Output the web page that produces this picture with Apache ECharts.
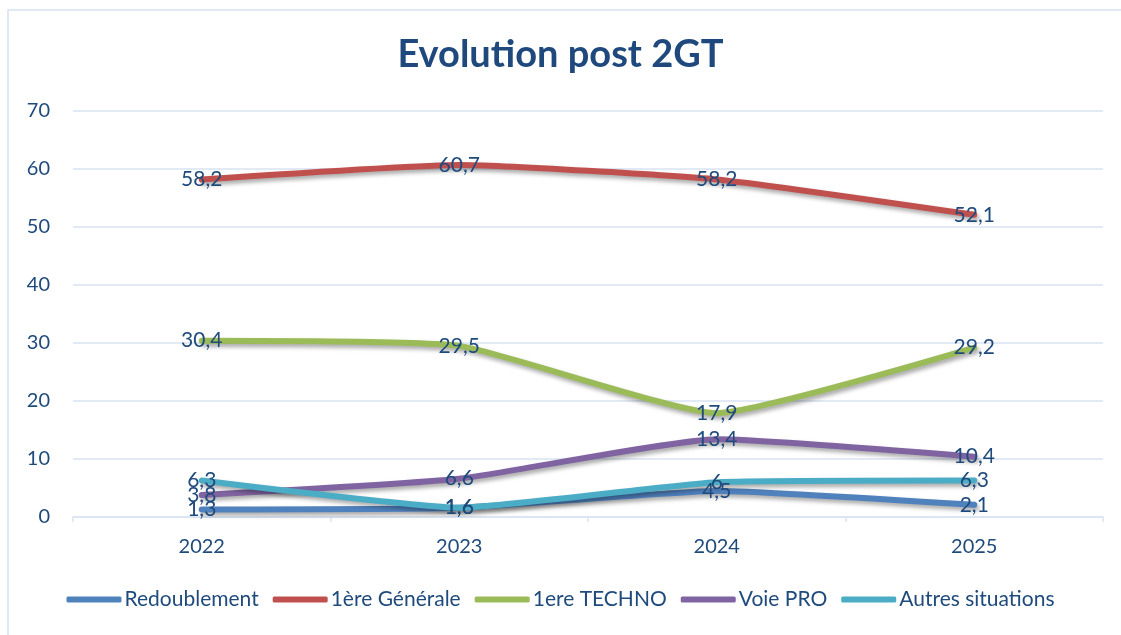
<!DOCTYPE html>
<html>
<head>
<meta charset="utf-8">
<script src="https://cdn.jsdelivr.net/npm/echarts@6/dist/echarts.min.js"></script>
<style>
  html, body { margin: 0; padding: 0; background: #fff; }
  #main { width: 1121px; height: 635px; }
</style>
</head>
<body>
<div id="main"></div>
<script>
// années
const years = ['2022', '2023', '2024', '2025'];

// valeurs (%)
const redoublement = [1.3, 1.6, 4.5, 2.1];
const generale = [58.2, 60.7, 58.2, 52.1];
const techno = [30.4, 29.5, 17.9, 29.2];
const voiePro = [3.8, 6.6, 13.4, 10.4];
const autres = [6.3, 1.6, 6, 6.3];

const textColor = '#1f4a7c';
const gridColor = '#d9e3f3';

function makeSeries(name, data, color) {
  return {
    name: name,
    type: 'line',
    data: data,
    smooth: 0.15,
    symbol: 'circle',
    symbolSize: 0.1,
    showSymbol: true,
    lineStyle: {
      color: color,
      width: 6,
      cap: 'round',
      shadowColor: 'rgba(0,0,0,0.35)',
      shadowBlur: 4,
      shadowOffsetX: 2,
      shadowOffsetY: 3
    },
    itemStyle: { color: color },
    label: {
      show: true,
      position: 'inside',
      color: textColor,
      fontSize: 21,
      fontFamily: 'Lato',
      formatter: function (p) {
        return String(p.value).replace('.', ',');
      }
    },
    labelLayout: { hideOverlap: false }
  };
}

const chart = echarts.init(document.getElementById('main'));
chart.setOption({
  animation: false,
  graphic: [{
    type: 'rect',
    shape: { x: 8, y: 10, width: 1140, height: 650 },
    style: { fill: 'none', stroke: '#d6e1f1', lineWidth: 1.5 },
    z: -1
  }],
  title: {
    text: 'Evolution post 2GT',
    left: 'center',
    top: 31,
    textStyle: {
      color: '#1f497d',
      fontSize: 38,
      fontWeight: 'bold',
      fontFamily: 'Lato'
    }
  },
  legend: {
    bottom: 20,
    left: 'center',
    icon: 'roundRect',
    itemWidth: 55,
    itemHeight: 6,
    itemGap: 14,
    textStyle: {
      color: textColor,
      fontSize: 21,
      fontFamily: 'Lato',
      padding: [0, 0, 0, -2]
    }
  },
  grid: {
    left: 73,
    right: 18,
    top: 111,
    bottom: 118
  },
  xAxis: {
    type: 'category',
    data: years,
    boundaryGap: true,
    axisLine: { lineStyle: { color: gridColor, width: 1.5 } },
    axisTick: { show: true, length: 5, lineStyle: { color: gridColor, width: 1.5 } },
    axisLabel: {
      color: textColor,
      fontSize: 20,
      fontFamily: 'Lato',
      margin: 20
    }
  },
  yAxis: {
    type: 'value',
    min: 0,
    max: 70,
    interval: 10,
    axisLine: { show: false },
    axisTick: { show: false },
    splitLine: { lineStyle: { color: gridColor, width: 1.5 } },
    axisLabel: {
      color: textColor,
      fontSize: 20,
      fontFamily: 'Lato',
      margin: 23
    }
  },
  series: [
    makeSeries('Redoublement', redoublement, '#4f81bd'),
    makeSeries('1ère Générale', generale, '#c0504d'),
    makeSeries('1ere TECHNO', techno, '#9bbb59'),
    makeSeries('Voie PRO', voiePro, '#8064a2'),
    makeSeries('Autres situations', autres, '#4bacc6')
  ]
});
</script>
</body>
</html>
